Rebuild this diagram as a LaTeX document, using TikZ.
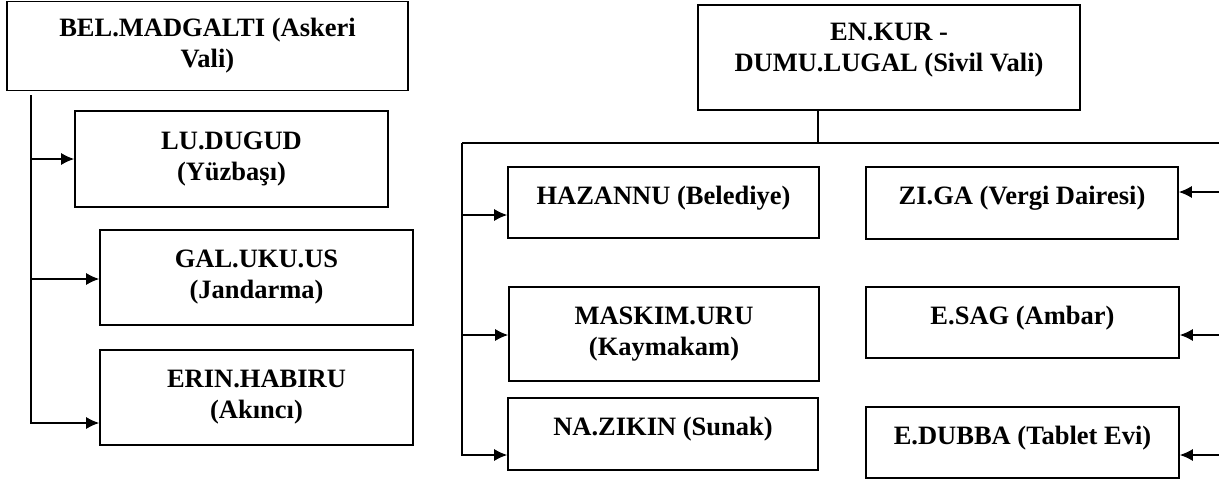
\documentclass[tikz,border=0pt]{standalone}
\usepackage{fontspec}
\setmainfont{Liberation Serif}
\usetikzlibrary{arrows.meta}

\tikzset{
    box/.style={draw, line width=1.7pt, inner sep=0pt,
        font=\bfseries\fontsize{26.5}{31}\selectfont},
    twobox/.style={box, align=center},
    onebox/.style={box, text height=18pt, text depth=15pt},
    link/.style={line width=1.2pt}
}

\begin{document}
\begin{tikzpicture}[x=1pt, y=-1pt, >={Latex[length=13pt,width=12pt]}]
    \useasboundingbox (0,0) rectangle (1219,483);

    % askeri taraf
    \node[twobox, minimum width=401, minimum height=89] (bel) at (207.5,46) {BEL.MADGALTI (Askeri\\Vali)};
    \node[twobox, minimum width=313, minimum height=96] (ludugud) at (231.5,159) {LU.DUGUD\\(Yüzbaşı)};
    \node[twobox, minimum width=313, minimum height=95] (galuku) at (256.5,277.5) {GAL.UKU.US\\(Jandarma)};
    \node[twobox, minimum width=313, minimum height=95] (erin) at (256.5,397.5) {ERIN.HABIRU\\(Akıncı)};

    \coordinate (ltop) at (31,95);
    \foreach \n/\y in {ludugud/159, galuku/279, erin/423}
        \draw[link, ->] (ltop) |- (\n.west |- 0,\y);

    % sivil taraf
    \node[twobox, minimum width=382, minimum height=105] (enkur) at (889,57.5) {EN.KUR -\\DUMU.LUGAL (Sivil Vali)\\[-10pt]\mbox{}};

    \node[onebox, minimum width=311, minimum height=71] (hazannu) at (663.5,202.5) {HAZANNU (Belediye)};
    \node[twobox, minimum width=310, minimum height=94] (maskim) at (664,334) {MASKIM.URU\\(Kaymakam)};
    \node[onebox, minimum width=310, minimum height=72] (nazikin) at (663,434) {NA.ZIKIN (Sunak)};

    \node[onebox, minimum width=312, minimum height=72] (ziga) at (1022,203) {ZI.GA (Vergi Dairesi)};
    \node[onebox, minimum width=313, minimum height=71] (esag) at (1022.5,322.5) {E.SAG (Ambar)};
    \node[onebox, minimum width=313, minimum height=71] (edubba) at (1022.5,442.5) {E.DUBBA (Tablet Evi)};

    \coordinate (split) at (818,143);
    \coordinate (rleft) at (462,143);
    \coordinate (redge) at (1219,143);
    \draw[link] (enkur.south -| split) -- (split);
    \draw[link] (rleft) -- (redge);

    \foreach \n/\y in {hazannu/215, maskim/335, nazikin/455}
        \draw[link, ->] (rleft) |- (\n.west |- 0,\y);
    \foreach \n/\y in {ziga/192, esag/335, edubba/455}
        \draw[link, ->] (redge |- 0,\y) -- (\n.east |- 0,\y);
\end{tikzpicture}
\end{document}
